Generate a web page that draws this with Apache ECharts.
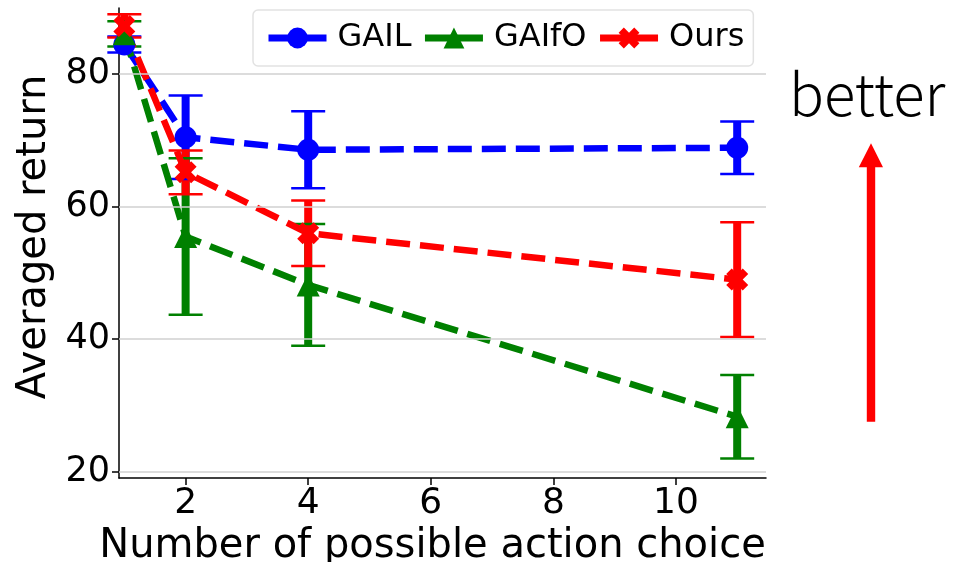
<!DOCTYPE html>
<html>
<head>
<meta charset="utf-8">
<script src="https://cdn.jsdelivr.net/npm/echarts@6/dist/echarts.min.js"></script>
<style>
html,body{margin:0;padding:0;background:#fff;}
#chart{width:966px;height:562px;}
</style>
</head>
<body>
<div id="chart"></div>
<script>
const xValues = [1, 2, 4, 11];
const gailMean = [84.5, 70.5, 68.6, 68.9];
const gailErr = [1.2, 6.3, 5.8, 3.95];
const gaifoMean = [86.1, 55.5, 48.2, 28.3];
const gaifoErr = [1.9, 11.8, 9.2, 6.3];
const oursMean = [87.3, 65.2, 56.0, 49.0];
const oursErr = [1.75, 3.3, 4.95, 8.65];
const xTicks = [2, 4, 6, 8, 10];
const yTicks = [20, 40, 60, 80];
const seriesNames = ['GAIL', 'GAIfO', 'Ours'];

const colors = ['#0000ff', '#008000', '#ff0000'];
const means = [gailMean, gaifoMean, oursMean];
const errs = [gailErr, gaifoErr, oursErr];
const symbols = ['circle', 'triangle', 'path://M25 0L50 25L75 0L100 25L75 50L100 75L75 100L50 75L25 100L0 75L25 50L0 25Z'];
const symbolSizes = [22, 23, 22];

const FONT = 'DejaVu Sans';
const chart = echarts.init(document.getElementById('chart'), null, {renderer: 'canvas'});

function errData(k) {
  return xValues.map((x, i) => [x, means[k][i] - errs[k][i], means[k][i] + errs[k][i]]);
}

const series = [];
series.push({
  name: 'grid', type: 'line', data: [], silent: true, z: 1,
  markLine: {
    silent: true, symbol: ['none', 'none'], label: {show: false},
    lineStyle: {color: '#d0d0d0', width: 1.5, type: 'solid'},
    data: yTicks.map(v => ({yAxis: v}))
  }
});
for (let k = 0; k < 3; k++) {
  series.push({
    name: seriesNames[k] + ' bars', type: 'custom', z: 2, silent: true,
    data: errData(k),
    renderItem: function (params, api) {
      const p1 = api.coord([api.value(0), api.value(1)]);
      const p2 = api.coord([api.value(0), api.value(2)]);
      return {type: 'line', shape: {x1: p1[0], y1: p1[1], x2: p2[0], y2: p2[1]},
        style: {stroke: colors[k], lineWidth: 8}};
    }
  });
}
for (let k = 0; k < 3; k++) {
  series.push({
    name: seriesNames[k], type: 'line', z: 3,
    data: xValues.map((x, i) => [x, means[k][i]]),
    symbol: symbols[k], symbolSize: symbolSizes[k],
    itemStyle: {color: colors[k]},
    lineStyle: {color: colors[k], width: 6.5, type: [24, 10]},
    showAllSymbol: true
  });
  series.push({
    name: seriesNames[k] + ' caps', type: 'custom', z: 3, silent: true,
    data: errData(k),
    renderItem: function (params, api) {
      const p1 = api.coord([api.value(0), api.value(1)]);
      const p2 = api.coord([api.value(0), api.value(2)]);
      const hw = 17;
      return {type: 'group', children: [
        {type: 'line', shape: {x1: p1[0] - hw, y1: p1[1], x2: p1[0] + hw, y2: p1[1]}, style: {stroke: colors[k], lineWidth: 2.5}},
        {type: 'line', shape: {x1: p2[0] - hw, y1: p2[1], x2: p2[0] + hw, y2: p2[1]}, style: {stroke: colors[k], lineWidth: 2.5}}
      ]};
    }
  });
}

const option = {
  animation: false,
  backgroundColor: '#fff',
  grid: {left: 119, right: 200, top: 8, bottom: 84, containLabel: false, outerBoundsMode: 'none'},
  legend: {
    data: seriesNames,
    left: 253, top: 10,
    padding: [12, 9, 12, 12],
    itemWidth: 58, itemHeight: 26, itemGap: 10,
    backgroundColor: '#fff', borderColor: '#e2e2e2', borderWidth: 1.5, borderRadius: 5,
    textStyle: {fontFamily: FONT, fontSize: 32, color: '#000', padding: [0, 0, 0, 6]},
    lineStyle: {type: 'solid', width: 7}
  },
  xAxis: {
    type: 'value', min: 0.913, max: 11.47,
    axisLine: {show: true, onZero: false, lineStyle: {color: '#000', width: 1.5}},
    axisTick: {show: true, customValues: xTicks, length: 7, lineStyle: {color: '#000', width: 1.5}},
    axisLabel: {customValues: xTicks, fontFamily: FONT, fontSize: 36, color: '#000', margin: 8},
    splitLine: {show: false},
    name: 'Number of possible action choice', nameLocation: 'middle', nameGap: 41,
    nameTextStyle: {fontFamily: FONT, fontSize: 40, color: '#000', padding: [0, 20, 0, 0]}
  },
  yAxis: {
    type: 'value', min: 19.05, max: 90.0,
    axisLine: {show: true, onZero: false, lineStyle: {color: '#000', width: 1.5}},
    axisTick: {show: true, customValues: yTicks, length: 7, lineStyle: {color: '#000', width: 1.5}},
    axisLabel: {customValues: yTicks, fontFamily: FONT, fontSize: 35, color: '#000', margin: 9},
    splitLine: {show: false},
    name: 'Averaged return', nameLocation: 'middle', nameGap: 49,
    nameTextStyle: {fontFamily: FONT, fontSize: 40, color: '#000', padding: [0, 0, 0, 12]}
  },
  graphic: [
    {type: 'text', left: 789, top: 65, silent: true,
      style: {text: 'better', fill: '#000', font: '300 58px "Noto Sans CJK SC"'}},
    {type: 'polygon', silent: true,
      shape: {points: [[866.8, 421.7], [875.2, 421.7], [875.2, 167.3], [883, 167.3], [871, 143.3], [858.8, 167.3], [866.8, 167.3]]},
      style: {fill: '#ff0000'}}
  ],
  series: series
};
chart.setOption(option);
</script>
</body>
</html>
